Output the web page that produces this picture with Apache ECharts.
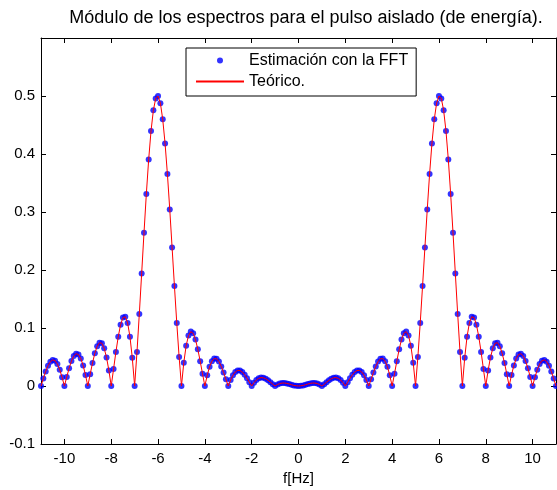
<!DOCTYPE html>
<html lang="es" style="height: 100%">
<head>
    <meta charset="UTF-8">
    <title>Módulo de los espectros</title>
    <script src="https://cdn.jsdelivr.net/npm/echarts@6/dist/echarts.min.js"></script>
</head>
<body style="height: 100%; margin: 0">
<div id="main" style="width: 557px; height: 490px"></div>
<script>
    // frecuencias [Hz]
    var freq = [
        -11.0,-10.9,-10.8,-10.7,-10.6,-10.5,-10.4,-10.3,-10.2,-10.1,
        -10.0,-9.9,-9.8,-9.7,-9.6,-9.5,-9.4,-9.3,-9.2,-9.1,
        -9.0,-8.9,-8.8,-8.7,-8.6,-8.5,-8.4,-8.3,-8.2,-8.1,
        -8.0,-7.9,-7.8,-7.7,-7.6,-7.5,-7.4,-7.3,-7.2,-7.1,
        -7.0,-6.9,-6.8,-6.7,-6.6,-6.5,-6.4,-6.3,-6.2,-6.1,
        -6.0,-5.9,-5.8,-5.7,-5.6,-5.5,-5.4,-5.3,-5.2,-5.1,
        -5.0,-4.9,-4.8,-4.7,-4.6,-4.5,-4.4,-4.3,-4.2,-4.1,
        -4.0,-3.9,-3.8,-3.7,-3.6,-3.5,-3.4,-3.3,-3.2,-3.1,
        -3.0,-2.9,-2.8,-2.7,-2.6,-2.5,-2.4,-2.3,-2.2,-2.1,
        -2.0,-1.9,-1.8,-1.7,-1.6,-1.5,-1.4,-1.3,-1.2,-1.1,
        -1.0,-0.9,-0.8,-0.7,-0.6,-0.5,-0.4,-0.3,-0.2,-0.1,
        0.0,0.1,0.2,0.3,0.4,0.5,0.6,0.7,0.8,0.9,
        1.0,1.1,1.2,1.3,1.4,1.5,1.6,1.7,1.8,1.9,
        2.0,2.1,2.2,2.3,2.4,2.5,2.6,2.7,2.8,2.9,
        3.0,3.1,3.2,3.3,3.4,3.5,3.6,3.7,3.8,3.9,
        4.0,4.1,4.2,4.3,4.4,4.5,4.6,4.7,4.8,4.9,
        5.0,5.1,5.2,5.3,5.4,5.5,5.6,5.7,5.8,5.9,
        6.0,6.1,6.2,6.3,6.4,6.5,6.6,6.7,6.8,6.9,
        7.0,7.1,7.2,7.3,7.4,7.5,7.6,7.7,7.8,7.9,
        8.0,8.1,8.2,8.3,8.4,8.5,8.6,8.7,8.8,8.9,
        9.0,9.1,9.2,9.3,9.4,9.5,9.6,9.7,9.8,9.9,
        10.0,10.1,10.2,10.3,10.4,10.5,10.6,10.7,10.8,10.9,
        11.0
    ];
    // modulo del espectro (la estimacion con la FFT coincide con el teorico)
    var modulo = [
        0,0.0129,0.0251,0.0351,0.0420,0.0450,0.0436,0.0378,0.0280,0.0151,
        0,0.0157,0.0305,0.0430,0.0518,0.0557,0.0543,0.0474,0.0354,0.0191,
        0,0.0203,0.0397,0.0564,0.0686,0.0746,0.0736,0.0650,0.0491,0.0269,
        0,0.0294,0.0588,0.0851,0.1057,0.1179,0.1194,0.1087,0.0850,0.0485,
        0,0.0585,0.1242,0.1941,0.2643,0.3310,0.3906,0.4397,0.4754,0.4959,
        0.5,0.4877,0.4598,0.4182,0.3654,0.3045,0.2390,0.1725,0.1086,0.0502,
        0,0.0402,0.0693,0.0870,0.0938,0.0909,0.0800,0.0632,0.0428,0.0210,
        0,0.0185,0.0330,0.0427,0.0473,0.0469,0.0421,0.0338,0.0232,0.0116,
        0,0.0103,0.0186,0.0242,0.0269,0.0267,0.0240,0.0193,0.0132,0.0065,
        0,0.0058,0.0103,0.0132,0.0145,0.0141,0.0125,0.0098,0.0065,0.0031,
        0,0.0025,0.0042,0.0051,0.0051,0.0045,0.0034,0.0022,0.0010,0.0003,
        0,0.0003,0.0010,0.0022,0.0034,0.0045,0.0051,0.0051,0.0042,0.0025,
        0,0.0031,0.0065,0.0098,0.0125,0.0141,0.0145,0.0132,0.0103,0.0058,
        0,0.0065,0.0132,0.0193,0.0240,0.0267,0.0269,0.0242,0.0186,0.0103,
        0,0.0116,0.0232,0.0338,0.0421,0.0469,0.0473,0.0427,0.0330,0.0185,
        0,0.0210,0.0428,0.0632,0.0800,0.0909,0.0938,0.0870,0.0693,0.0402,
        0,0.0502,0.1086,0.1725,0.2390,0.3045,0.3654,0.4182,0.4598,0.4877,
        0.5,0.4959,0.4754,0.4397,0.3906,0.3310,0.2643,0.1941,0.1242,0.0585,
        0,0.0485,0.0850,0.1087,0.1194,0.1179,0.1057,0.0851,0.0588,0.0294,
        0,0.0269,0.0491,0.0650,0.0736,0.0746,0.0686,0.0564,0.0397,0.0203,
        0,0.0191,0.0354,0.0474,0.0543,0.0557,0.0518,0.0430,0.0305,0.0157,
        0,0.0151,0.0280,0.0378,0.0436,0.0450,0.0420,0.0351,0.0251,0.0129,
        0
    ];
    var xTicks = [-10, -8, -6, -4, -2, 0, 2, 4, 6, 8, 10];
    var yTicks = [-0.1, 0, 0.1, 0.2, 0.3, 0.4, 0.5];

    var puntos = [];
    for (var i = 0; i < freq.length; i++) {
        puntos.push([freq[i], modulo[i]]);
    }

    var fuente = 'Liberation Sans';
    var ejeX = function (pos, conEtiqueta) {
        return {
            type: 'value', position: pos, min: -11, max: 11,
            name: conEtiqueta ? 'f[Hz]' : '', nameLocation: 'middle', nameGap: 26,
            nameTextStyle: {color: '#000', fontSize: 15, fontFamily: fuente},
            axisLine: {show: true, onZero: false, lineStyle: {color: '#000', width: 1}},
            axisTick: {show: true, inside: true, length: 5, customValues: xTicks, lineStyle: {color: '#000'}},
            axisLabel: {show: conEtiqueta, customValues: xTicks, margin: 7, color: '#000', fontSize: 15, fontFamily: fuente},
            splitLine: {show: false}
        };
    };
    var ejeY = function (pos, conEtiqueta) {
        return {
            type: 'value', position: pos, min: -0.1, max: 0.6, interval: 0.1,
            axisLine: {show: true, onZero: false, lineStyle: {color: '#000', width: 1}},
            axisTick: {show: true, inside: true, length: 5, customValues: yTicks, lineStyle: {color: '#000'}},
            axisLabel: {show: conEtiqueta, customValues: yTicks, margin: 6, color: '#000', fontSize: 15, fontFamily: fuente},
            splitLine: {show: false}
        };
    };

    var myoption = {
        animation: false,
        backgroundColor: '#fff',
        title: {
            text: 'Módulo de los espectros para el pulso aislado (de energía).',
            left: 306, top: 9, padding: 0, textAlign: 'center',
            textStyle: {color: '#000', fontSize: 18, fontWeight: 'normal', fontFamily: fuente}
        },
        legend: {
            orient: 'vertical', left: 186, top: 48,
            padding: [4, 8, 6, 9], itemGap: 4, itemWidth: 48, itemHeight: 6,
            borderColor: '#000', borderWidth: 1, backgroundColor: '#fff',
            textStyle: {color: '#000', fontSize: 16, lineHeight: 17, fontFamily: fuente},
            data: [
                {name: 'Estimación con la FFT'},
                {name: 'Teórico.', itemStyle: {opacity: 0}}
            ]
        },
        grid: {left: 41, right: 1, top: 38, bottom: 46, outerBoundsMode: 'none'},
        xAxis: [ejeX('bottom', true), ejeX('top', false)],
        yAxis: [ejeY('left', true), ejeY('right', false)],
        series: [
            {
                name: 'Estimación con la FFT',
                type: 'scatter',
                symbol: 'circle',
                symbolSize: 6,
                itemStyle: {color: '#0000ff'},
                data: puntos
            },
            {
                name: 'Teórico.',
                type: 'line',
                symbol: 'none',
                showSymbol: false,
                lineStyle: {color: '#ff0000', width: 1},
                itemStyle: {color: '#ff0000'},
                data: puntos
            }
        ]
    };
    var myChart = echarts.init(document.getElementById('main'));
    myChart.setOption(myoption);
</script>
</body>
</html>
